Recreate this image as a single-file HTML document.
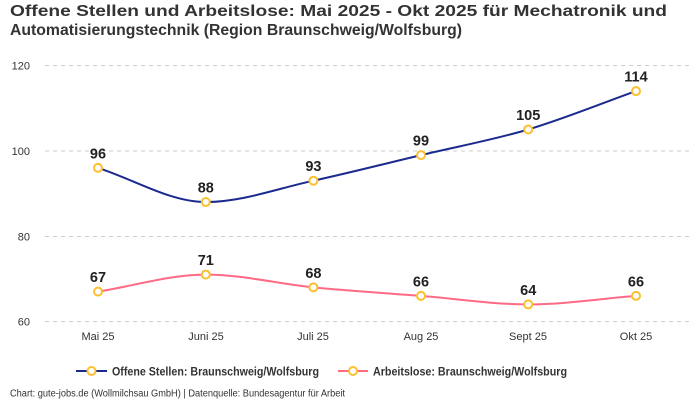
<!DOCTYPE html>
<html>
<head>
<meta charset="utf-8">
<style>
  html, body { margin: 0; padding: 0; background: #fff; }
  body { width: 700px; height: 400px; overflow: hidden; }
  svg { display: block; font-family: "Liberation Sans", sans-serif; }
</style>
</head>
<body>
<svg id="c" width="700" height="400" viewBox="0 0 700 400" xmlns="http://www.w3.org/2000/svg">
  <rect width="700" height="400" fill="#fff"/>
  <text x="10" y="16" font-size="16" font-weight="bold" fill="#333" textLength="657" lengthAdjust="spacingAndGlyphs">Offene Stellen und Arbeitslose: Mai 2025 - Okt 2025 für Mechatronik und</text>
  <text x="10" y="35" font-size="16" font-weight="bold" fill="#333" textLength="452" lengthAdjust="spacingAndGlyphs">Automatisierungstechnik (Region Braunschweig/Wolfsburg)</text>

  <g stroke="#cccccc" stroke-width="1" stroke-dasharray="4,4">
    <line x1="45" y1="65.5" x2="690" y2="65.5"/>
    <line x1="45" y1="151" x2="690" y2="151"/>
    <line x1="45" y1="236.5" x2="690" y2="236.5"/>
    <line x1="45" y1="321.5" x2="690" y2="321.5"/>
  </g>
  <g font-size="11" fill="#333" text-anchor="end">
    <text x="30" y="69.5">120</text>
    <text x="30" y="155">100</text>
    <text x="30" y="240.5">80</text>
    <text x="30" y="325.5">60</text>
  </g>
  <g font-size="11" fill="#333" text-anchor="middle">
    <text x="98" y="340">Mai 25</text>
    <text x="206" y="340">Juni 25</text>
    <text x="313" y="340">Juli 25</text>
    <text x="421" y="340">Aug 25</text>
    <text x="528" y="340">Sept 25</text>
    <text x="636" y="340">Okt 25</text>
  </g>

  <path id="p1" fill="none" stroke="#1b2a8e" stroke-width="2"/>
  <path id="p2" fill="none" stroke="#ff6b85" stroke-width="2"/>
  <g id="marks"></g>
  <g id="labels" font-size="14.5" font-weight="bold" fill="#222" text-anchor="middle"></g>

  <!-- legend -->
  <line x1="76" y1="371" x2="107" y2="371" stroke="#1b2a8e" stroke-width="2"/>
  <circle cx="91.5" cy="371" r="4" fill="#fff" stroke="#fbc02d" stroke-width="2"/>
  <text x="112" y="375.5" font-size="12" font-weight="bold" fill="#333" textLength="207" lengthAdjust="spacingAndGlyphs">Offene Stellen: Braunschweig/Wolfsburg</text>
  <line x1="338" y1="371" x2="368" y2="371" stroke="#ff6b85" stroke-width="2"/>
  <circle cx="353" cy="371" r="4" fill="#fff" stroke="#fbc02d" stroke-width="2"/>
  <text x="373" y="375.5" font-size="12" font-weight="bold" fill="#333" textLength="194" lengthAdjust="spacingAndGlyphs">Arbeitslose: Braunschweig/Wolfsburg</text>

  <text x="10" y="396.5" font-size="10" fill="#333" textLength="335" lengthAdjust="spacingAndGlyphs">Chart: gute-jobs.de (Wollmilchsau GmbH) | Datenquelle: Bundesagentur für Arbeit</text>
</svg>
<script>
(function(){
  var xs = [98, 205.8, 313.4, 421, 528.2, 636];
  function yv(v){ return 321.5 - (v-60)*(256/60); }
  function mono(pts){
    var n = pts.length, d = [], m = [];
    for (var i=0;i<n-1;i++){ d.push((pts[i+1][1]-pts[i][1])/(pts[i+1][0]-pts[i][0])); }
    for (var i=0;i<n;i++){
      if (i===0) m.push(d[0]);
      else if (i===n-1) m.push(d[n-2]);
      else if (d[i-1]===0 || d[i]===0 || (d[i-1]>0)!==(d[i]>0)) m.push(0);
      else m.push((d[i-1]+d[i])/2);
    }
    for (var i=0;i<n-1;i++){
      if (Math.abs(d[i])<1e-9){ m[i]=0; m[i+1]=0; continue; }
      var a = m[i]/d[i], b = m[i+1]/d[i], s = a*a+b*b;
      if (s>9){ var t = 3/Math.sqrt(s); m[i]=t*a*d[i]; m[i+1]=t*b*d[i]; }
    }
    var s = "M"+pts[0][0]+","+pts[0][1];
    for (var i=0;i<n-1;i++){
      var dx = (pts[i+1][0]-pts[i][0])/3;
      s += " C"+(pts[i][0]+dx)+","+(pts[i][1]+m[i]*dx)+" "+(pts[i+1][0]-dx)+","+(pts[i+1][1]-m[i+1]*dx)+" "+pts[i+1][0]+","+pts[i+1][1];
    }
    return s;
  }
  var s1 = [96,88,93,99,105,114], s2 = [67,71,68,66,64,66];
  var P1 = xs.map(function(x,i){return [x,yv(s1[i])];});
  var P2 = xs.map(function(x,i){return [x,yv(s2[i])];});
  document.getElementById('p1').setAttribute('d', mono(P1));
  document.getElementById('p2').setAttribute('d', mono(P2));
  var NS = "http://www.w3.org/2000/svg";
  var marks = document.getElementById('marks'), labels = document.getElementById('labels');
  [[P1,s1],[P2,s2]].forEach(function(pair){
    pair[0].forEach(function(p,i){
      var c = document.createElementNS(NS,'circle');
      c.setAttribute('cx',p[0]); c.setAttribute('cy',p[1]); c.setAttribute('r',4);
      c.setAttribute('fill','#fff'); c.setAttribute('stroke','#fbc02d'); c.setAttribute('stroke-width',2);
      marks.appendChild(c);
      var t = document.createElementNS(NS,'text');
      t.setAttribute('x',p[0]); t.setAttribute('y',p[1]-9.5);
      t.textContent = pair[1][i];
      labels.appendChild(t);
    });
  });
})();
</script>
</body>
</html>
